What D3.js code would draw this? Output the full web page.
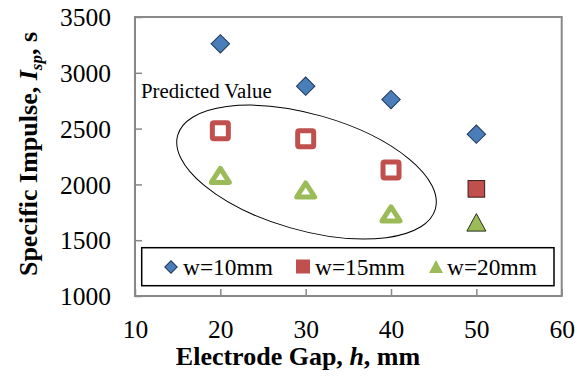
<!DOCTYPE html>
<html><head><meta charset="utf-8">
<script src="https://cdn.jsdelivr.net/npm/d3@7"></script>
<style>
html,body{margin:0;padding:0;background:#fff;}
text{font-family:"Liberation Serif","Times New Roman",serif;}
</style></head>
<body><svg id="chart" width="583" height="376"></svg>
<script>
const gaps = [20, 30, 40, 50];
const w10 = [3260, 2880, 2760, 2450];
const w15 = [2480, 2410, 2130, 1960];
const w20 = [2080, 1950, 1735, 1660];
const predicted = [true, true, true, false];
const xTicks = [10, 20, 30, 40, 50, 60];
const yTicks = [1000, 1500, 2000, 2500, 3000, 3500];
const seriesNames = ["w=10mm", "w=15mm", "w=20mm"];
const colors = ["#4a7ebb", "#c0504d", "#9bbb59"];

const svg = d3.select("#chart");
const L = 135, R = 561.7, T = 17, B = 296;
const x = d3.scaleLinear().domain([10, 60]).range([L, R]);
const y = d3.scaleLinear().domain([1000, 3500]).range([B, T]);
const serif = '"Liberation Serif","Times New Roman",serif';

// axes with inward ticks
const gx = svg.append("g").attr("transform", `translate(0,${B})`)
  .call(d3.axisBottom(x).tickValues(xTicks).tickFormat(d3.format("d"))
    .tickSizeInner(-7).tickSizeOuter(0).tickPadding(24));
const gy = svg.append("g").attr("transform", `translate(${L},0)`)
  .call(d3.axisLeft(y).tickValues(yTicks).tickFormat(d3.format("d"))
    .tickSizeInner(-7).tickSizeOuter(0).tickPadding(24));
[gx, gy].forEach(g => {
  g.attr("font-family", serif).attr("font-size", 25.5);
  g.select(".domain").remove();
  g.selectAll(".tick line").attr("stroke", "#898989").attr("stroke-width", 1.5);
  g.selectAll(".tick text").attr("fill", "#000");
});
gy.selectAll(".tick text").attr("dy", "0.34em");
gx.selectAll(".tick text").attr("dy", "0.71em");

// plot border
svg.append("rect").attr("x", L).attr("y", T).attr("width", R - L).attr("height", B - T)
  .attr("fill", "none").attr("stroke", "#898989").attr("stroke-width", 2);

// ellipse annotation around predicted values
const ell = {cx: 30.1, cy: 2110, rx: 134, ry: 58, angle: 16};
svg.append("ellipse")
  .attr("transform", `translate(${x(ell.cx)},${y(ell.cy)}) rotate(${ell.angle})`)
  .attr("rx", ell.rx).attr("ry", ell.ry)
  .attr("fill", "none").attr("stroke", "#000").attr("stroke-width", 1);
svg.append("text").attr("x", 141).attr("y", 98).attr("font-size", 20.8).text("Predicted Value");

// w=10mm diamonds
svg.append("g").selectAll("rect").data(gaps.map((g, i) => [g, w10[i]])).join("rect")
  .attr("x", -6.5).attr("y", -6.5).attr("width", 13).attr("height", 13)
  .attr("transform", d => `translate(${x(d[0])},${y(d[1])}) rotate(45)`)
  .attr("fill", colors[0]).attr("stroke", "#1d3557").attr("stroke-width", 1);

// w=15mm squares
svg.append("g").selectAll("rect").data(gaps.map((g, i) => [g, w15[i], predicted[i]])).join("rect")
  .each(function(d) {
    const s = d3.select(this);
    if (d[2]) {
      s.attr("x", x(d[0]) - 8).attr("y", y(d[1]) - 8).attr("width", 16).attr("height", 16)
        .attr("rx", 1.5)
        .attr("fill", "#fff").attr("stroke", colors[1]).attr("stroke-width", 5);
    } else {
      s.attr("x", x(d[0]) - 8.3).attr("y", y(d[1]) - 8.3).attr("width", 16.6).attr("height", 16.6)
        .attr("fill", colors[1]).attr("stroke", "#3a1a19").attr("stroke-width", 1);
    }
  });

// w=20mm triangles
function triPath(cx, cy, w, h) {
  return `M${cx},${cy - h / 2}L${cx + w / 2},${cy + h / 2}L${cx - w / 2},${cy + h / 2}Z`;
}
svg.append("g").selectAll("path").data(gaps.map((g, i) => [g, w20[i], predicted[i]])).join("path")
  .each(function(d) {
    const s = d3.select(this);
    if (d[2]) {
      s.attr("d", triPath(x(d[0]), y(d[1]), 18, 14))
        .attr("fill", "#fff").attr("stroke", colors[2]).attr("stroke-width", 5)
        .attr("stroke-linejoin", "round");
    } else {
      s.attr("d", triPath(x(d[0]), y(d[1]), 19, 17.5))
        .attr("fill", colors[2]).attr("stroke", "#26301a").attr("stroke-width", 1);
    }
  });

// legend
svg.append("rect").attr("x", 141.7).attr("y", 247.7).attr("width", 412.3).attr("height", 38)
  .attr("fill", "#fff").attr("stroke", "#000").attr("stroke-width", 1.5);
const legY = 267, legText = [183, 315, 447], legMark = [171, 303, 436];
svg.append("rect").attr("x", -4.4).attr("y", -4.4).attr("width", 8.8).attr("height", 8.8)
  .attr("transform", `translate(${legMark[0]},${legY}) rotate(45)`)
  .attr("fill", colors[0]).attr("stroke", "#1d3557").attr("stroke-width", 1);
svg.append("rect").attr("x", legMark[1] - 7).attr("y", legY - 7.5).attr("width", 14).attr("height", 14)
  .attr("fill", colors[1]);
svg.append("path").attr("d", triPath(legMark[2], legY - 0.5, 14, 13)).attr("fill", colors[2]);
seriesNames.forEach((n, i) => {
  svg.append("text").attr("x", legText[i]).attr("y", 274.5).attr("font-size", 23.4).text(n);
});

// axis titles
const xt = svg.append("text").attr("x", 298).attr("y", 365).attr("text-anchor", "middle")
  .attr("font-size", 26).attr("font-weight", "bold");
xt.append("tspan").text("Electrode Gap, ");
xt.append("tspan").attr("font-style", "italic").text("h");
xt.append("tspan").text(", mm");

const yt = svg.append("text").attr("transform", "translate(37,154) rotate(-90)")
  .attr("text-anchor", "middle").attr("font-size", 26).attr("font-weight", "bold");
yt.append("tspan").text("Specific Impulse, ");
yt.append("tspan").attr("font-style", "italic").text("I");
yt.append("tspan").attr("font-style", "italic").attr("font-size", 17).attr("dy", 5).text("sp");
yt.append("tspan").attr("dy", -5).text(", s");
</script></body></html>
